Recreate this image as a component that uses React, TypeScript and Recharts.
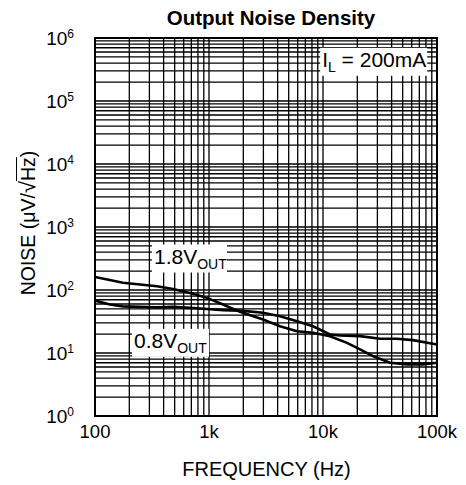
import React from 'react';
import { LineChart, Line, XAxis, YAxis, CartesianGrid, ReferenceArea, ReferenceDot } from 'recharts';

// ---- data ----
const freq18 = [100, 176, 350, 483, 681, 960, 1327, 1870, 2977, 4197, 5915, 8170, 11520, 16250, 21130, 27470, 38720, 54550, 75350, 100000];
const noise18 = [161, 130, 115, 104, 90, 75, 59, 45, 34, 26.6, 22.2, 20.9, 18.5, 14.5, 11.4, 8.9, 7.0, 6.6, 6.6, 7.0];

const freq08 = [100, 135, 176, 350, 483, 681, 960, 1327, 1870, 2977, 4197, 5915, 8170, 11520, 14090, 21130, 31620, 44560, 61550, 100000];
const noise08 = [68, 59, 55, 53, 54, 52, 50, 48, 47, 43.5, 38.4, 32, 26.6, 19.7, 19.0, 18.5, 16.8, 16.8, 16.0, 13.6];

// grid / tick definitions
const mantissas = [1, 2, 3, 4, 5, 6, 7, 8, 9];
const xDecades = [100, 1000, 10000];
const xEnd = 100000;
const yDecades = [1, 10, 100, 1000, 10000, 100000];
const yEnd = 1000000;
const xTickLabels: Record<number, string> = { 100: '100', 1000: '1k', 10000: '10k', 100000: '100k' };
const yTickExponents: Record<number, string> = { 1: '0', 10: '1', 100: '2', 1000: '3', 10000: '4', 100000: '5', 1000000: '6' };

// annotation anchors (data coordinates) and texts
const labelAnchors = [
  { f: 316, v: 316, main: '1.8V', sub: 'OUT', rest: '', w: 75 },
  { f: 211, v: 14.5, main: '0.8V', sub: 'OUT', rest: '', w: 77 },
  { f: 9440, v: 419000, main: 'I', sub: 'L', rest: ' = 200mA', w: 107 },
];

const xTicks = [...xDecades.flatMap((d) => mantissas.map((m) => m * d)), xEnd];
const yTicks = [...yDecades.flatMap((d) => mantissas.map((m) => m * d)), yEnd];

const data18 = freq18.map((f, i) => ({ f, v: noise18[i] }));
const data08 = freq08.map((f, i) => ({ f, v: noise08[i] }));

const FONT = '"Liberation Sans", Arial, sans-serif';

const XTick = (props: any) => {
  const { x, y, payload } = props;
  const lbl = xTickLabels[payload.value];
  if (!lbl) return <g />;
  return (
    <text x={x} y={y + 21.5} textAnchor="middle" fontSize={18.5} fontFamily={FONT} fill="#000">
      {lbl}
    </text>
  );
};

const YTick = (props: any) => {
  const { x, y, payload } = props;
  const exp = yTickExponents[payload.value];
  if (exp === undefined) return <g />;
  return (
    <text x={x - 21} y={y + 7} textAnchor="end" fontSize={19} fontFamily={FONT} fill="#000">
      <tspan>10</tspan>
      <tspan fontSize={12} dy={-7.5}>{exp}</tspan>
    </text>
  );
};

const makeLabelShape = (a: typeof labelAnchors[number]) => (props: any) => {
  const { cx, cy } = props;
  return (
    <g>
      <rect x={cx} y={cy - 14} width={a.w} height={28} fill="#fff" />
      <text x={cx + 2} y={cy + 5} fontSize={21} fontFamily={FONT} fill="#000">
        {a.main}
        <tspan fontSize={14} dy={5}>{a.sub}</tspan>
        {a.rest ? <tspan fontSize={21} dy={-5}>{a.rest}</tspan> : null}
      </text>
    </g>
  );
};

export default function App() {
  return (
    <div style={{ position: 'absolute', left: 0, top: 0, width: 466, height: 485, background: '#fff', fontFamily: FONT }}>
      <LineChart width={466} height={485} margin={{ top: 38, right: 29, left: 0, bottom: 0 }}>
        <CartesianGrid stroke="#000" strokeWidth={1.3} />
        <XAxis
          dataKey="f"
          type="number"
          scale="log"
          domain={[100, 100000]}
          ticks={xTicks}
          allowDataOverflow
          height={69}
          tickSize={0}
          tickMargin={0}
          tickLine={false}
          axisLine={false}
          tick={<XTick />}
          interval={0}
        />
        <YAxis
          type="number"
          scale="log"
          domain={[1, 1000000]}
          ticks={yTicks}
          allowDataOverflow
          width={95}
          tickSize={0}
          tickMargin={0}
          tickLine={false}
          axisLine={false}
          tick={<YTick />}
          interval={0}
        />
        <Line data={data18} dataKey="v" type="linear" stroke="#000" strokeWidth={2.6} dot={false} isAnimationActive={false} />
        <Line data={data08} dataKey="v" type="linear" stroke="#000" strokeWidth={2.6} dot={false} isAnimationActive={false} />
        <ReferenceArea x1={100} x2={100000} y1={1} y2={1000000} fill="none" fillOpacity={0} stroke="#000" strokeWidth={2} />
        {labelAnchors.map((a, i) => (
          <ReferenceDot key={i} x={a.f} y={a.v} r={1} shape={makeLabelShape(a)} />
        ))}
      </LineChart>
      <svg width={466} height={485} style={{ position: 'absolute', left: 0, top: 0, pointerEvents: 'none' }}>
        <text x={271} y={25} textAnchor="middle" fontSize={20.5} fontWeight="bold" fontFamily={FONT} fill="#000">
          Output Noise Density
        </text>
        <text x={266.5} y={476} textAnchor="middle" fontSize={20} fontFamily={FONT} fill="#000">
          FREQUENCY (Hz)
        </text>
      </svg>
      <div
        style={{
          position: 'absolute',
          left: 27.5 - 100,
          top: 223 - 12,
          width: 200,
          height: 24,
          lineHeight: '24px',
          textAlign: 'center',
          fontSize: 19.5,
          fontFamily: FONT,
          whiteSpace: 'nowrap',
          transform: 'rotate(-90deg)',
          color: '#000',
        }}
      >
        NOISE (μV/<span style={{ fontSize: 22 }}>√</span><span style={{ textDecoration: 'overline' }}>Hz</span>)
      </div>
    </div>
  );
}
